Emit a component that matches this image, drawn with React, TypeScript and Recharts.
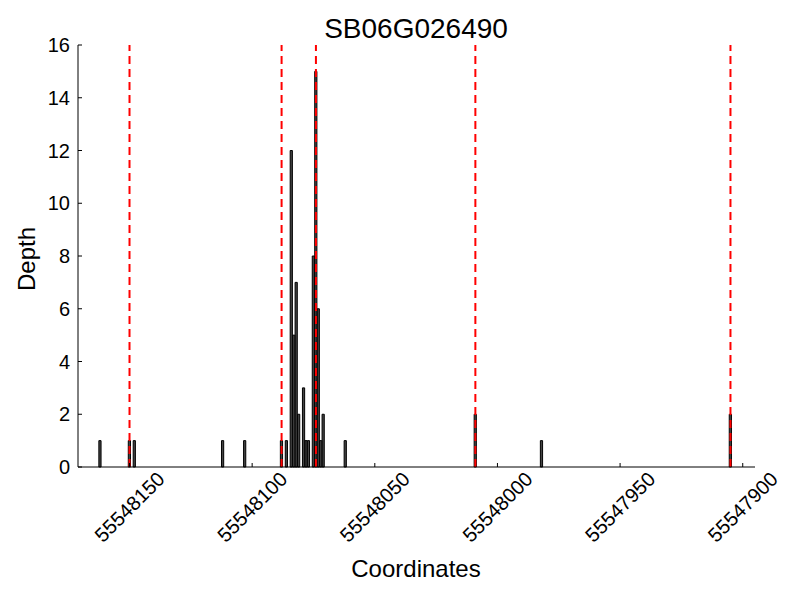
import React from 'react';
import { ComposedChart, Bar, XAxis, YAxis, ReferenceLine } from 'recharts';

const positions = [55548162, 55548150, 55548148, 55548112, 55548103, 55548088, 55548086, 55548084, 55548083, 55548082, 55548081, 55548079, 55548078, 55548077, 55548075, 55548074, 55548073, 55548072, 55548071, 55548062, 55548009, 55547982, 55547905];
const depths = [1, 1, 1, 1, 1, 1, 1, 12, 5, 7, 2, 3, 1, 1, 8, 15, 6, 1, 2, 1, 2, 1, 2];
const boundaries = [55548150, 55548088, 55548074, 55548009, 55547905];
const xTicks = [55548150, 55548100, 55548050, 55548000, 55547950, 55547900];
const yTicks = [0, 2, 4, 6, 8, 10, 12, 14, 16];
const title = 'SB06G026490';
const xLabel = 'Coordinates';
const yLabel = 'Depth';

const data = positions
  .map((p, i) => ({ pos: p, depth: depths[i] }))
  .sort((a, b) => a.pos - b.pos);

const FONT = '"Liberation Sans", Arial, Helvetica, sans-serif';

const XTick = (props: any) => {
  const { x, y, payload } = props;
  const cy = y + 40;
  return (
    <g>
      <line x1={x} y1={y} x2={x} y2={y - 4} stroke="#000" strokeWidth={1} />
      <text
        x={x}
        y={cy}
        dy="0.35em"
        textAnchor="middle"
        fontSize={20}
        fontFamily={FONT}
        fill="#000"
        transform={`rotate(-45 ${x} ${cy})`}
      >
        {payload.value}
      </text>
    </g>
  );
};

const YTick = (props: any) => {
  const { x, y, payload } = props;
  return (
    <g>
      <line x1={x} y1={y} x2={x + 4} y2={y} stroke="#000" strokeWidth={1} />
      <text x={x - 8} y={y} dy="0.35em" textAnchor="end" fontSize={20} fontFamily={FONT} fill="#000">
        {payload.value}
      </text>
    </g>
  );
};

export default function App() {
  return (
    <div style={{ position: 'absolute', left: 0, top: 0, width: 800, height: 600, background: '#fff' }}>
      <ComposedChart
        width={800}
        height={600}
        data={data}
        margin={{ top: 45, right: 45, left: 0, bottom: 0 }}
      >
        <XAxis
          type="number"
          dataKey="pos"
          domain={[55547895, 55548171]}
          reversed
          allowDataOverflow
          ticks={xTicks}
          interval={0}
          tickSize={0}
          tickMargin={0}
          tickLine={false}
          axisLine={{ stroke: '#000', strokeWidth: 1 }}
          tick={<XTick />}
          height={133}
        />
        <YAxis
          type="number"
          domain={[0, 16]}
          ticks={yTicks}
          interval={0}
          tickSize={0}
          tickMargin={0}
          tickLine={false}
          axisLine={{ stroke: '#000', strokeWidth: 1 }}
          tick={<YTick />}
          width={78}
        />
        <Bar dataKey="depth" fill="#444444" stroke="#000" strokeWidth={1} barSize={3} isAnimationActive={false} />
        {boundaries.map((b) => (
          <ReferenceLine key={b} x={b} stroke="#ff0000" strokeWidth={2} strokeDasharray="8 5" />
        ))}
      </ComposedChart>
      <svg width={800} height={600} style={{ position: 'absolute', left: 0, top: 0, pointerEvents: 'none' }}>
        <text x={416} y={38} textAnchor="middle" fontSize={28} fontFamily={FONT} fill="#000">{title}</text>
        <text x={416} y={577} textAnchor="middle" fontSize={24} fontFamily={FONT} fill="#000">{xLabel}</text>
        <text
          x={35}
          y={259}
          textAnchor="middle"
          fontSize={24}
          fontFamily={FONT}
          fill="#000"
          transform="rotate(-90 35 259)"
        >
          {yLabel}
        </text>
      </svg>
    </div>
  );
}
